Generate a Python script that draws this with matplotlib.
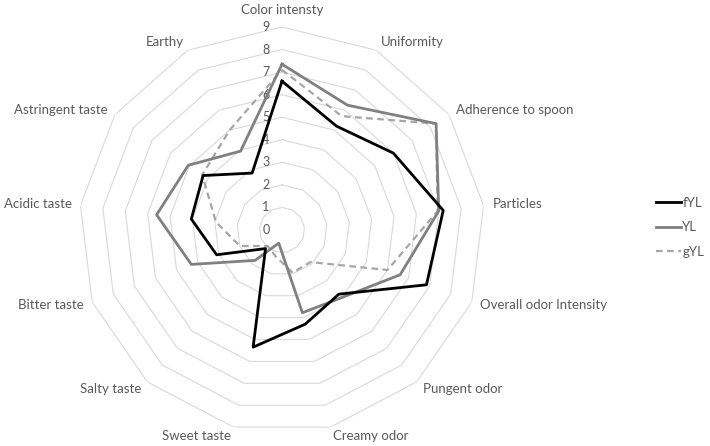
import numpy as np
import matplotlib
matplotlib.use('Agg')
import matplotlib.pyplot as plt

plt.rcParams['font.family'] = ['Lato', 'DejaVu Sans']

categories = ['Color intensty', 'Uniformity', 'Adherence to spoon', 'Particles',
              'Overall odor Intensity', 'Pungent odor', 'Creamy odor', 'Sweet taste',
              'Salty taste', 'Bitter taste', 'Acidic taste', 'Astringent taste', 'Earthy']
fYL = [6.6, 5.2, 6.0, 7.2, 6.85, 3.8, 4.3, 5.35, 1.1, 3.1, 4.05, 4.25, 2.85]
YL = [7.35, 6.25, 8.3, 7.0, 5.6, 4.0, 3.78, 0.6, 1.8, 4.3, 5.6, 5.05, 3.95]
gYL = [7.1, 5.7, 8.3, 6.95, 5.0, 1.9, 1.95, 1.2, 0.95, 2.0, 2.95, 4.3, 5.0]
rings = list(range(0, 10))

txt = '#595959'
n = len(categories)
theta = np.linspace(0, 2 * np.pi, n, endpoint=False)
th_closed = np.append(theta, theta[0])

fig = plt.figure(figsize=(7.1, 4.46), dpi=100)
ax = fig.add_axes([79 / 710, 13 / 446, 406 / 710, 406 / 446], projection='polar')
ax.set_theta_zero_location('N')
ax.set_theta_direction(-1)
ax.set_ylim(0, 9)
ax.grid(False)
ax.spines['polar'].set_visible(False)
ax.set_xticks([])
ax.set_yticks([])
ax.patch.set_alpha(0)

# polygon rings
for r in rings[1:]:
    ax.plot(th_closed, [r] * (n + 1), color='#d9d9d9', lw=0.8, zorder=1)

# radial tick labels
for r in rings:
    ax.annotate(str(r), (0, r), xytext=(-9, 0), textcoords='offset points',
                ha='right', va='center', fontsize=9, color=txt)

# series
ax.plot(th_closed, fYL + fYL[:1], color='#000000', lw=2.0, label='fYL', zorder=4)
ax.plot(th_closed, YL + YL[:1], color='#808080', lw=2.0, label='YL', zorder=3)
ax.plot(th_closed, gYL + gYL[:1], color='#a6a6a6', lw=1.6, ls=(0, (3, 2)), label='gYL', zorder=2)

# category labels
for t, lab in zip(theta, categories):
    s = np.sin(t)
    if abs(s) < 1e-6:
        ax.text(t, 9.5, lab, ha='center', va='bottom', fontsize=9.5, color=txt)
    else:
        ax.text(t, 9.4, lab, ha='left' if s > 0 else 'right', va='center',
                fontsize=9.5, color=txt)

fig.legend(loc='center left', bbox_to_anchor=(656 / 710, 0.49), frameon=False,
           fontsize=9.5, handlelength=1.9, labelspacing=0.95, handletextpad=0.1,
           borderpad=0, borderaxespad=0, labelcolor=txt)

fig.savefig('out.png', dpi=100)
